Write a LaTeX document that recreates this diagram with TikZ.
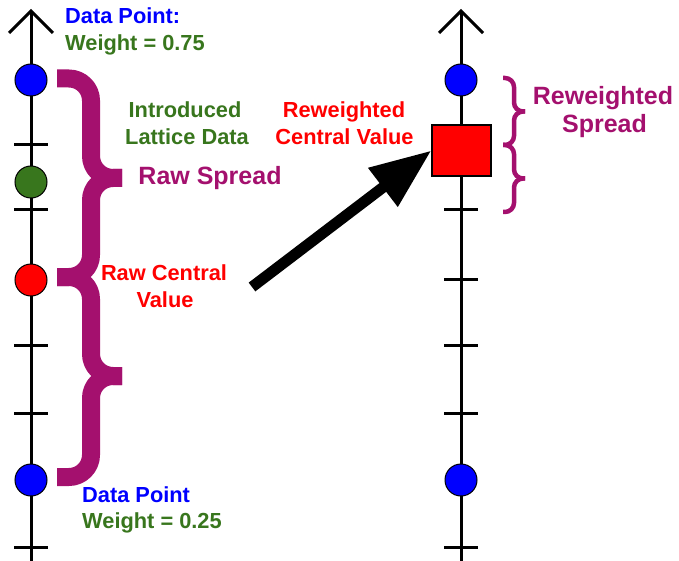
\documentclass[tikz,border=0pt]{standalone}
\usepackage{fontspec}
\setmainfont{Liberation Sans}
\usetikzlibrary{arrows.meta,calc}

\definecolor{ptblue}{RGB}{0,0,255}
\definecolor{wgreen}{RGB}{56,118,29}
\definecolor{cred}{RGB}{255,0,0}
\definecolor{spreadpurple}{RGB}{164,16,110}

\tikzset{
  axisline/.style={line width=3pt, black},
  tickmark/.style={line width=3pt, black},
  datapt/.style={circle, draw=black, line width=1pt, minimum size=32pt, inner sep=0pt},
  lbl/.style={inner sep=0pt, font=\bfseries\fontsize{21.8}{26}\selectfont},
  biglbl/.style={inner sep=0pt, font=\bfseries\fontsize{25}{30}\selectfont},
  bracestroke/.style={draw=spreadpurple, line cap=butt, line join=round},
}

% A right curly brace drawn as two halves meeting at the tip.
% #1 extra options, #2 end x, #3 spine x, #4 tip x, #5 top y, #6 tip y, #7 bottom y, #8 corner radius
\newcommand\spreadbrace[8]{%
  \draw[bracestroke,#1] (#2,#5) -- ({#3-#8},#5)
    .. controls ({#3-0.45*#8},#5) and (#3,{#5+0.45*#8}) .. (#3,{#5+#8})
    -- (#3,{#6-#8})
    .. controls (#3,{#6-0.45*#8}) and ({#3+0.45*#8},#6) .. ({#3+#8},#6) -- (#4,#6);
  \draw[bracestroke,#1] (#4,#6) -- ({#3+#8},#6)
    .. controls ({#3+0.45*#8},#6) and (#3,{#6+0.45*#8}) .. (#3,{#6+#8})
    -- (#3,{#7-#8})
    .. controls (#3,{#7-0.45*#8}) and ({#3-0.45*#8},#7) .. ({#3-#8},#7) -- (#2,#7);
}

\begin{document}
\begin{tikzpicture}[x=1pt, y=-1pt]
\useasboundingbox (0,0) rectangle (679,561);

% ---------- left number line ----------
\coordinate (lbot) at (31,561);
\coordinate (ltop) at (31,11);
\draw[axisline] (lbot) -- (ltop);
\draw[axisline] ([shift={(-22,22)}]ltop) -- (ltop) -- ([shift={(22,22)}]ltop);
\foreach \ty in {145,210,345,413,547}
  \draw[tickmark] (14,\ty) -- (48,\ty);

% ---------- right number line ----------
\coordinate (rbot) at (461,561);
\coordinate (rtop) at (461,11);
\draw[axisline] (rbot) -- (rtop);
\draw[axisline] ([shift={(-22,22)}]rtop) -- (rtop) -- ([shift={(22,22)}]rtop);
\foreach \ty in {210,279,345,413,547}
  \draw[tickmark] (444,\ty) -- (478,\ty);

% ---------- spreads (each is two stacked braces) ----------
\spreadbrace{line width=18pt}{57}{91}{122}{78.5}{178}{277}{22}
\spreadbrace{line width=18pt}{57}{91}{122}{277}{376}{477}{22}
\spreadbrace{line width=4.5pt}{503}{514}{525}{78}{111.5}{145}{9}
\spreadbrace{line width=4.5pt}{503}{514}{525}{145}{178.5}{212}{9}

% ---------- data points ----------
\node[datapt, fill=ptblue] (ptop) at (31,80) {};
\node[datapt, fill=wgreen] (plat) at (31,182) {};
\node[datapt, fill=cred]   (pcen) at (31,280) {};
\node[datapt, fill=ptblue] (pbot) at (31,480) {};

\node[datapt, fill=ptblue] (qtop) at (461,80) {};
\node[datapt, fill=ptblue] (qbot) at (461,480) {};
\node[draw=black, fill=cred, line width=1.2pt, minimum width=59pt, minimum height=51pt,
      inner sep=0pt] (cval) at (461.5,150.5) {};

% ---------- reweighting arrow ----------
\coordinate (arrtail) at (252,287);
\draw[line width=11pt, -{Triangle[length=61pt,width=46pt]}] (arrtail) -- (cval.west);

% ---------- labels ----------
\node[lbl, text=ptblue, anchor=base west] (dpa1) at (65,24) {Data Point:};
\node[lbl, text=wgreen, anchor=base west] (dpa2) at (65,51) {Weight = 0.75};

\node[lbl, text=wgreen, anchor=base] (lat1) at (185,118) {Introduced};
\node[lbl, text=wgreen, anchor=base] (lat2) at (187,145) {Lattice Data};

\node[biglbl, text=spreadpurple, anchor=base] (rawsp) at (210,185) {Raw Spread};

\node[lbl, text=cred, anchor=base] (rcv1) at (164,280) {Raw Central};
\node[lbl, text=cred, anchor=base] (rcv2) at (165,307) {Value};

\node[lbl, text=ptblue, anchor=base west] (dpb1) at (82,502) {Data Point};
\node[lbl, text=wgreen, anchor=base west] (dpb2) at (82,528) {Weight = 0.25};

\node[lbl, text=cred, anchor=base] (rwc1) at (344,118) {Reweighted};
\node[lbl, text=cred, anchor=base] (rwc2) at (344.5,145) {Central Value};

\node[biglbl, text=spreadpurple, anchor=base] (rws1) at (603,105) {Reweighted};
\node[biglbl, text=spreadpurple, anchor=base] (rws2) at (604.5,133) {Spread};
\end{tikzpicture}
\end{document}
